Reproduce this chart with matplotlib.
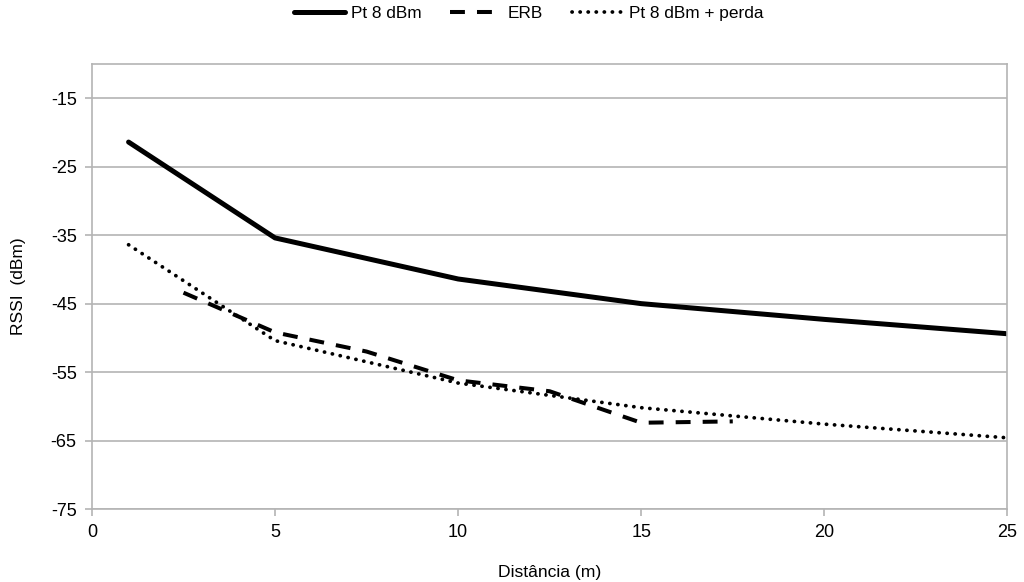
import matplotlib
matplotlib.use("Agg")
import matplotlib.pyplot as plt

plt.rcParams['font.family'] = ['Liberation Sans', 'DejaVu Sans']
plt.rcParams['axes.unicode_minus'] = False

# Measured RSSI versus distance
dist_pt = [1, 5, 10, 15, 20, 25]
rssi_pt = [-21.4, -35.4, -41.4, -45.0, -47.3, -49.4]

dist_erb = [2.5, 5, 7.5, 10, 12.5, 15, 17.5]
rssi_erb = [-43.4, -49.2, -52.0, -56.2, -57.8, -62.4, -62.2]

dist_loss = [1, 5, 10, 15, 20, 25]
rssi_loss = [-36.4, -50.4, -56.6, -60.2, -62.6, -64.6]

labels = ["Pt 8 dBm", "ERB", "Pt 8 dBm + perda"]
x_ticks = [0, 5, 10, 15, 20, 25]
y_ticks = [-75, -65, -55, -45, -35, -25, -15]

grey = '#b4b4b4'

fig = plt.figure(figsize=(10.24, 5.82), dpi=100)
ax = fig.add_axes([0.0898, 0.1254, 0.894, 0.7646])

ax.plot(dist_pt, rssi_pt, color='black', lw=3.6, solid_joinstyle='round',
        solid_capstyle='round', label=labels[0])
ax.plot(dist_erb, rssi_erb, color='black', lw=2.9, linestyle=(0, (3.7, 3.0)),
        dash_capstyle='butt', label=labels[1])
ax.plot(dist_loss, rssi_loss, color='black', lw=2.7, linestyle=(0, (0.05, 2.1)),
        dash_capstyle='round', label=labels[2])

ax.set_xlim(0, 25)
ax.set_ylim(-75, -10)
ax.set_xticks(x_ticks)
ax.set_yticks(y_ticks)
ax.grid(axis='y', color=grey, lw=1.2)
ax.set_axisbelow(True)
for s in ax.spines.values():
    s.set_color(grey)
    s.set_linewidth(1.2)
ax.tick_params(axis='both', colors=grey, labelcolor='black', labelsize=13,
               length=5, width=1.2, direction='out')
ax.tick_params(axis='y', pad=6)
ax.tick_params(axis='x', pad=6)

ax.set_xlabel("Distância (m)", fontsize=12.6, labelpad=17)
ax.set_ylabel("RSSI  (dBm)", fontsize=12.5, labelpad=18)

fig.legend(loc='center', bbox_to_anchor=(0.516, 0.976), ncol=3, frameon=False,
           fontsize=12.4, handlelength=3.0, columnspacing=1.7, handletextpad=0.3)

fig.savefig("out.png", dpi=100)
